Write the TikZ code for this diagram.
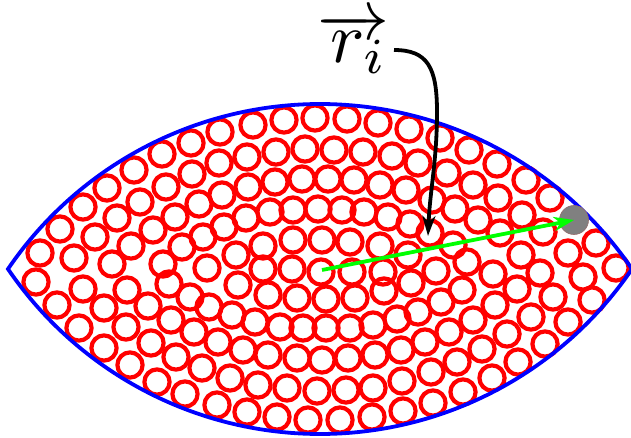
\documentclass[tikz,border=0pt]{standalone}
\usetikzlibrary{arrows.meta}
\begin{document}
\begin{tikzpicture}[x=1pt,y=-1pt,
  ring/.style={draw=red, line width=4.2pt},
  lens/.style={draw=blue, line width=3.8pt},
  dot/.style={circle, fill=gray, draw=gray!85!red, line width=0.6pt, minimum size=29pt, inner sep=0pt},
  greenarrow/.style={draw=green, line width=3.8pt, -{Stealth[length=20pt,width=14pt,inset=6pt]}},
  blackarrow/.style={draw=black, line width=3.8pt, -{Stealth[length=20pt,width=13pt,inset=6pt]}},
  lab/.style={inner sep=0pt, scale=7.2, anchor=base}]
\useasboundingbox (0,0) rectangle (631,438);
\foreach \x/\y in {
 40/253, 60/229, 83/207, 107/188, 134/170, 162/154, 191/143,
 74/258, 95/237, 117/218, 140/202, 166/187, 192/174,
 112/264, 131/246, 153/230, 175/217, 199/204,
 163/264, 182/247, 203/237, 207/268,
 36/282, 57/305, 83/289, 79/328, 104/308, 104/348, 127/290, 126/327, 130/365,
 148/306, 151/343, 157/382, 169/284, 171/320, 176/357, 185/394, 190/297,
 194/332, 202/368, 209/307,
 220/132, 253/125, 284/120, 315/118, 347/119, 378/123, 409/129,
 219/163, 247/157, 276/152, 305/149, 334/150, 363/152, 392/156, 418/163,
 222/195, 248/187, 275/182, 302/179, 328/179, 354/180, 380/185, 406/190,
 224/227, 246/218, 270/212, 293/210, 318/209, 342/210, 364/212, 388/217, 410/224,
 236/255, 263/246, 293/240, 322/240, 350/242, 380/246, 408/255,
 263/269, 292/269, 321/272, 352/272, 383/272,
 238/285, 268/295, 297/298, 326/299, 355/298, 384/291, 411/283,
 232/315, 255/322, 280/327, 303/328, 326/328, 350/328, 373/325, 397/319, 418/312,
 218/342, 243/350, 268/355, 297/358, 322/360, 348/358, 375/355, 401/350, 425/342,
 230/378, 258/385, 287/388, 317/391, 346/390, 373/388, 402/381, 431/372,
 217/405, 247/412, 277/417, 308/420, 340/420, 372/417, 403/411, 433/403,
 440/138, 469/150, 497/164, 526/180, 550/198, 596/243, 616/268,
 447/173, 473/185, 498/198, 522/215,
 432/200, 455/209, 478/220, 500/233, 543/232,
 430/233, 453/245, 467/262, 521/255, 568/253,
 436/271, 493/274, 540/273, 583/277,
 462/290, 517/289, 553/297, 592/300,
 441/302, 495/305, 531/317, 568/322,
 473/320, 449/332, 507/334, 482/349, 545/344,
 457/362, 518/362, 492/378, 463/392}
  \draw[ring] (\x,\y) circle[radius=12.6];
\draw[lens] (8,269) arc[start angle=214.26,end angle=325.74,radius=377.5]
  arc[start angle=34.26,end angle=145.74,radius=377.5] -- cycle;
\node[dot] (g) at (574,220) {};
\coordinate (o) at (322,270);
\draw[greenarrow] (o) -- (g.center);
\node[lab] (r) at (353,63) {$\overrightarrow{r_i\mkern-3mu}$};
\coordinate (s) at (394,50);
\coordinate (t) at (428,236);
\draw[blackarrow] (s) .. controls (428,50) and (437,68) .. (437,112)
  .. controls (437,160) and (430,190) .. (t);
\end{tikzpicture}
\end{document}
